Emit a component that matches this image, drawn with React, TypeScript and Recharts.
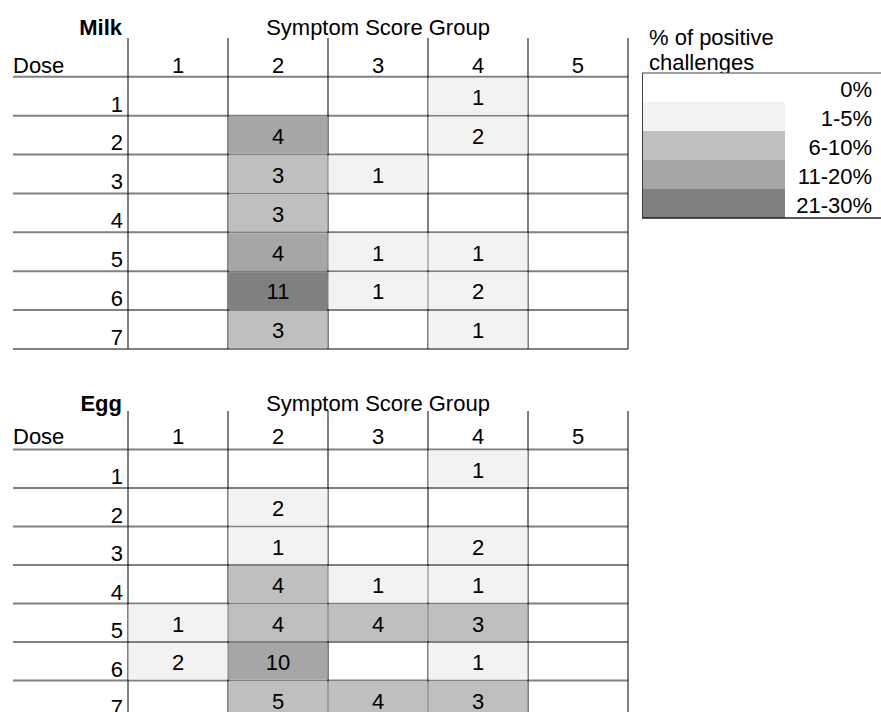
import React from 'react';
import { ScatterChart, Scatter, XAxis, YAxis, ReferenceLine } from 'recharts';

// table axes
const doses = [1, 2, 3, 4, 5, 6, 7];
const scoreGroups = [1, 2, 3, 4, 5];

// counts per dose (rows) x symptom score group (cols), 0 = empty cell
const milkCounts = [
  [0, 0, 0, 1, 0],
  [0, 4, 0, 2, 0],
  [0, 3, 1, 0, 0],
  [0, 3, 0, 0, 0],
  [0, 4, 1, 1, 0],
  [0, 11, 1, 2, 0],
  [0, 3, 0, 1, 0],
];
// shade band per cell (index into legendLabels)
const milkLevels = [
  [0, 0, 0, 1, 0],
  [0, 3, 0, 1, 0],
  [0, 2, 1, 0, 0],
  [0, 2, 0, 0, 0],
  [0, 3, 1, 1, 0],
  [0, 4, 1, 1, 0],
  [0, 2, 0, 1, 0],
];

const eggCounts = [
  [0, 0, 0, 1, 0],
  [0, 2, 0, 0, 0],
  [0, 1, 0, 2, 0],
  [0, 4, 1, 1, 0],
  [1, 4, 4, 3, 0],
  [2, 10, 0, 1, 0],
  [0, 5, 4, 3, 0],
];
const eggLevels = [
  [0, 0, 0, 1, 0],
  [0, 1, 0, 0, 0],
  [0, 1, 0, 1, 0],
  [0, 2, 1, 1, 0],
  [1, 2, 2, 2, 0],
  [1, 3, 0, 1, 0],
  [0, 2, 2, 2, 0],
];

const legendLabels = ['0%', '1-5%', '6-10%', '11-20%', '21-30%'];
const shadeColors = ['#ffffff', '#f2f2f2', '#bfbfbf', '#a6a6a6', '#808080'];

const FONT = "'Liberation Sans', Arial, Helvetica, sans-serif";
const FS = 22;

// layout of one table chart
const CHART_W = 640;
const PLOT_TOP = 38;
const PLOT_LEFT = 13;
const PLOT_RIGHT = 628;
const X_DOMAIN: [number, number] = [-0.65, 5.5];
const Y_DOMAIN: [number, number] = [-0.5, 7.5];
const CELL_W = (PLOT_RIGHT - PLOT_LEFT) / (X_DOMAIN[1] - X_DOMAIN[0]);

const rowLines = [0.5, 1.5, 2.5, 3.5, 4.5, 5.5, 6.5, 7.5];
const colLines = [0.5, 1.5, 2.5, 3.5, 4.5, 5.5];

function toPoints(counts: number[][], levels: number[][]) {
  const pts: { x: number; y: number; count: number; level: number }[] = [];
  doses.forEach((d, r) => {
    scoreGroups.forEach((g, c) => {
      if (counts[r][c] > 0) pts.push({ x: g, y: d, count: counts[r][c], level: levels[r][c] });
    });
  });
  return pts;
}

interface TableProps {
  title: string;
  counts: number[][];
  levels: number[][];
  top: number;
  rowH: number;
  titleY: number;
  headerY: number;
}

function DoseTable({ title, counts, levels, top, rowH, titleY, headerY }: TableProps) {
  const data = toPoints(counts, levels);
  const chartH = PLOT_TOP + rowH * (Y_DOMAIN[1] - Y_DOMAIN[0]) + 12;

  const CellShape = (props: any) => {
    const { cx, cy, payload } = props;
    if (cx == null || cy == null) return null;
    return (
      <g>
        <rect
          x={cx - CELL_W / 2 + 0.5}
          y={cy - rowH / 2 + 1}
          width={CELL_W - 1}
          height={rowH - 2}
          fill={shadeColors[payload.level]}
        />
        <text x={cx} y={cy + 8.8} textAnchor="middle" fontFamily={FONT} fontSize={FS} fill="#000">
          {payload.count}
        </text>
      </g>
    );
  };

  const ColTick = (props: any) => (
    <text x={props.x} y={headerY} textAnchor="middle" fontFamily={FONT} fontSize={FS} fill="#000">
      {props.payload.value}
    </text>
  );

  const DoseTick = (props: any) => (
    <text x={123} y={props.y + 15.3} textAnchor="end" fontFamily={FONT} fontSize={FS} fill="#000">
      {props.payload.value}
    </text>
  );

  return (
    <div style={{ position: 'absolute', left: 0, top, width: CHART_W, height: chartH }}>
      <ScatterChart
        width={CHART_W}
        height={chartH}
        margin={{ top: 0, right: CHART_W - PLOT_RIGHT, bottom: 12, left: 0 }}
      >
        <XAxis
          type="number"
          dataKey="x"
          orientation="top"
          domain={X_DOMAIN}
          ticks={scoreGroups}
          interval={0}
          height={PLOT_TOP}
          axisLine={false}
          tickLine={false}
          tick={<ColTick />}
          allowDataOverflow
        />
        <YAxis
          type="number"
          dataKey="y"
          domain={Y_DOMAIN}
          ticks={doses}
          interval={0}
          reversed
          width={PLOT_LEFT}
          axisLine={false}
          tickLine={false}
          tick={<DoseTick />}
          allowDataOverflow
        />
        <Scatter data={data} shape={<CellShape />} isAnimationActive={false} />
        {rowLines.map((v) => (
          <ReferenceLine key={`r${v}`} y={v} stroke="#808080" strokeWidth={2} />
        ))}
        {colLines.map((v) => (
          <ReferenceLine key={`c${v}`} x={v} stroke="#000" strokeWidth={1} />
        ))}
      </ScatterChart>
      <svg width={CHART_W} height={80} style={{ position: 'absolute', left: 0, top: 0, pointerEvents: 'none' }}>
        <text x={122} y={titleY} textAnchor="end" fontFamily={FONT} fontSize={FS} fontWeight="bold" fill="#000">
          {title}
        </text>
        <text x={378} y={titleY} textAnchor="middle" fontFamily={FONT} fontSize={FS} fill="#000">
          Symptom Score Group
        </text>
        <text x={13} y={headerY} fontFamily={FONT} fontSize={FS} fill="#000">
          Dose
        </text>
      </svg>
    </div>
  );
}

function ShadeLegend() {
  const bandTop = 73;
  const bandH = 29;
  return (
    <svg width={881} height={230} style={{ position: 'absolute', left: 0, top: 0, pointerEvents: 'none' }}>
      <text x={649} y={45} fontFamily={FONT} fontSize={FS} fill="#000">% of positive</text>
      <text x={649} y={70} fontFamily={FONT} fontSize={FS} fill="#000">challenges</text>
      {legendLabels.map((lab, i) => (
        <g key={lab}>
          <rect x={643} y={bandTop + i * bandH} width={142} height={bandH} fill={shadeColors[i]} />
          <text x={872} y={bandTop + (i + 1) * bandH - 5} textAnchor="end" fontFamily={FONT} fontSize={FS} fill="#000">
            {lab}
          </text>
        </g>
      ))}
      <line x1={642} y1={bandTop} x2={881} y2={bandTop} stroke="#404040" strokeWidth={1} />
      <line x1={642.5} y1={bandTop} x2={642.5} y2={bandTop + 5 * bandH} stroke="#404040" strokeWidth={1} />
      <line x1={642} y1={bandTop + 5 * bandH} x2={881} y2={bandTop + 5 * bandH} stroke="#202020" strokeWidth={1.5} />
    </svg>
  );
}

export default function App() {
  return (
    <div
      style={{
        position: 'absolute',
        left: 0,
        top: 0,
        width: 881,
        height: 712,
        overflow: 'hidden',
        background: '#fff',
      }}
    >
      <DoseTable title="Milk" counts={milkCounts} levels={milkLevels} top={0} rowH={38.86} titleY={35} headerY={73} />
      <DoseTable title="Egg" counts={eggCounts} levels={eggLevels} top={372.5} rowH={38.5} titleY={37.5} headerY={70.5} />
      <ShadeLegend />
    </div>
  );
}
